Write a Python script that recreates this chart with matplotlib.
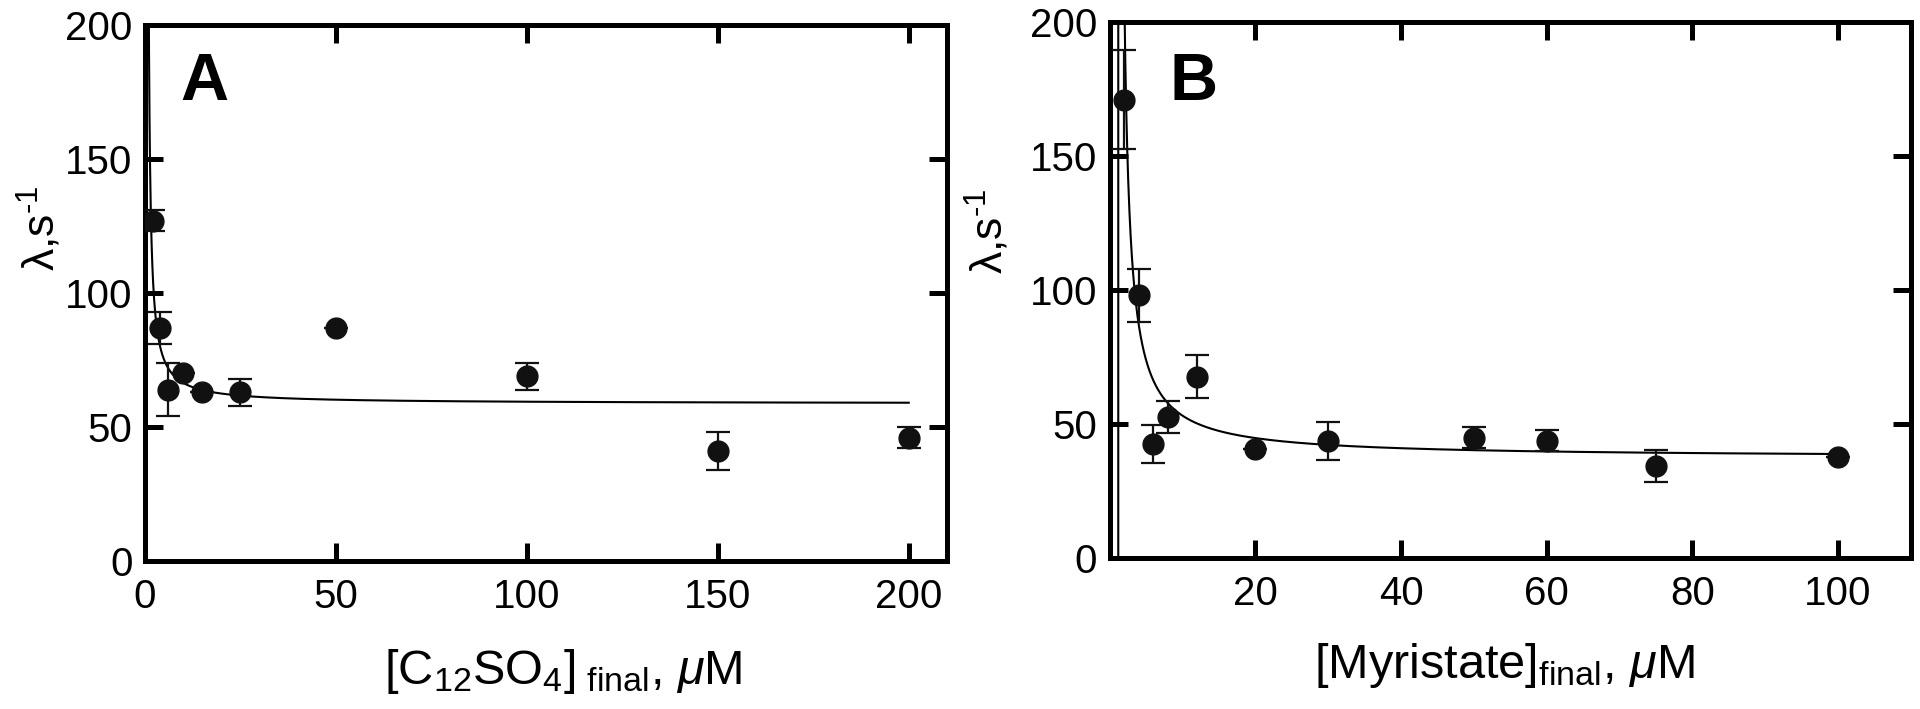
import numpy as np
import matplotlib
matplotlib.use('Agg')
import matplotlib.pyplot as plt

plt.rcParams['font.family'] = ['Liberation Sans', 'DejaVu Sans']
plt.rcParams['mathtext.fontset'] = 'custom'
plt.rcParams['mathtext.rm'] = 'Liberation Sans'
plt.rcParams['mathtext.it'] = 'Liberation Sans:italic'
plt.rcParams['mathtext.bf'] = 'Liberation Sans:bold'

# panel A: C12SO4
concA = [2, 4, 6, 10, 15, 25, 50, 100, 150, 200]
rateA = [127, 87, 64, 70, 63, 63, 87, 69, 41, 46]
errA = [4, 6, 10, 0, 0, 5, 0, 5, 7, 4]
# fit: rate = base + amp / (conc - shift)
fitA = (58.7, 74.0, 0.5)

# panel B: myristate
concB = [2, 4, 6, 8, 12, 20, 30, 50, 60, 75, 100]
rateB = [171, 98, 42.5, 52.5, 67.7, 40.6, 43.6, 44.9, 43.8, 34.4, 37.6]
errB = [18.5, 10, 7, 6, 8, 0, 7, 4, 4, 6, 0]
fitB = (37.4, 138.0, 1.2)

yTicks = [0, 50, 100, 150, 200]

def panel(ax, conc, rate, err, fit, xMax, xLim, xTicks, xLabels, letter, letterPos, xLabel, xLabelPos, yLabelPos):
	base, amp, shift = fit
	xs = np.linspace(0, xMax, 2999)
	ax.plot(xs, base + amp / (xs - shift), color = 'black', lw = 1.5, zorder = 2)
	ax.errorbar(conc, rate, yerr = err, fmt = 'o', color = '#111111', ms = 15,
		ecolor = '#111111', elinewidth = 1.6, capsize = 8.5, capthick = 1.6, zorder = 3)
	ax.set_xlim(*xLim)
	ax.set_ylim(0, 200)
	ax.set_xticks(xTicks)
	ax.set_xticklabels(xLabels)
	ax.set_yticks(yTicks)
	for s in ax.spines.values():
		s.set_linewidth(3.6)
	ax.tick_params(direction = 'in', top = True, right = True, length = 13, width = 3.6,
		labelsize = 29, pad = 9)
	ax.tick_params(axis = 'x', pad = 12)
	ax.text(letterPos[0], letterPos[1], letter, transform = ax.transAxes, fontsize = 48,
		fontweight = 'bold', ha = 'left', va = 'baseline')
	ax.set_xlabel(xLabel, fontsize = 35)
	ax.xaxis.set_label_coords(*xLabelPos)
	ax.set_ylabel(r'λ,s$^{\text{-1}}$', fontsize = 32)
	ax.yaxis.set_label_coords(*yLabelPos)

fig = plt.figure(figsize = (19.2, 7.09), dpi = 100)
axA = fig.add_axes([0.0755, 0.2087, 0.4177, 0.756])
axB = fig.add_axes([0.578, 0.213, 0.4172, 0.756])

panel(axA, concA, rateA, errA, fitA, 200, (0, 210), [0, 50, 100, 150, 200],
	['0', '50', '100', '150', '200'], 'A', (0.044, 0.86),
	r'[C$_{12}$SO$_{4}$]$_{\ \mathrm{final}}$, $\mathit{\mu}$M', (0.521, -0.16), (-0.101, 0.62))
panel(axB, concB, rateB, errB, fitB, 100, (0, 110), [0, 20, 40, 60, 80, 100],
	['', '20', '40', '60', '80', '100'], 'B', (0.075, 0.854),
	r'[Myristate]$_{\mathrm{final}}$, $\mathit{\mu}$M', (0.493, -0.155), (-0.122, 0.61))

fig.savefig('out.png', dpi = 100)
